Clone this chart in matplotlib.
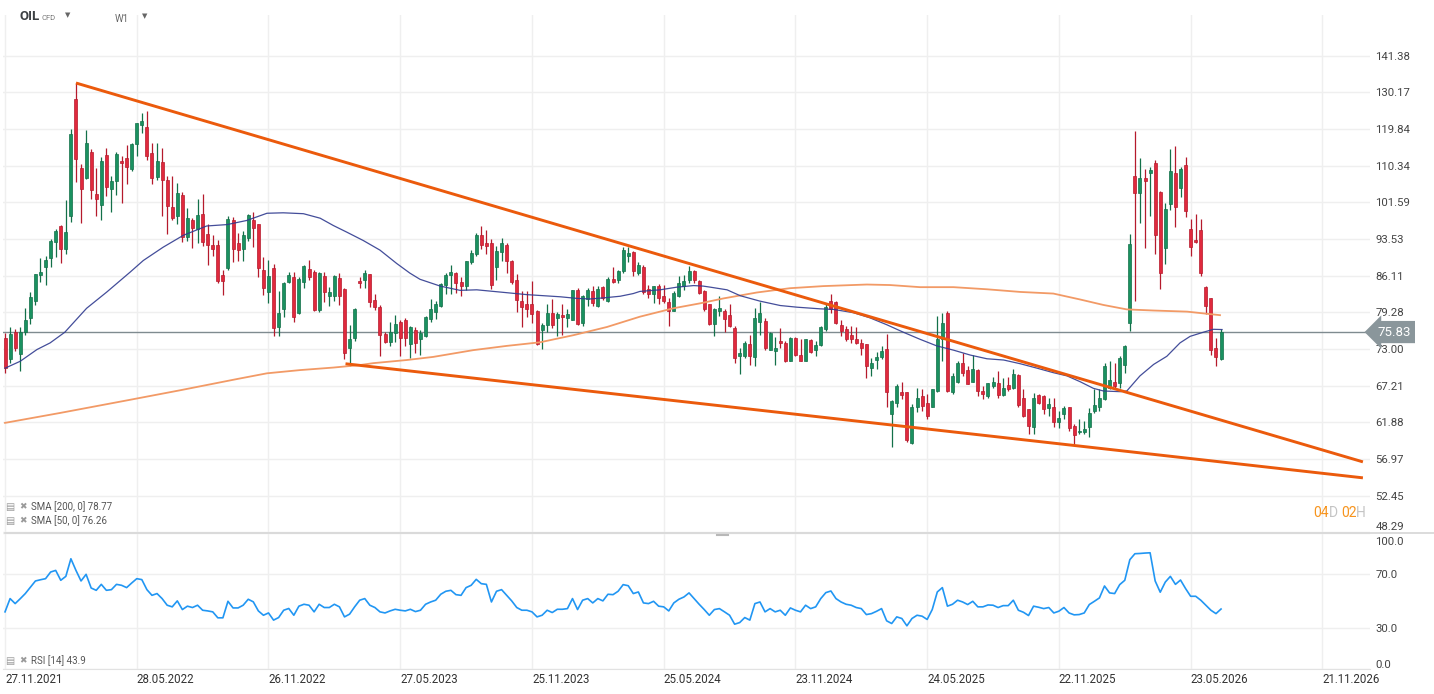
import numpy as np
import pandas as pd
import matplotlib
matplotlib.use("Agg")
import matplotlib.pyplot as plt
from matplotlib.ticker import NullLocator
from matplotlib.transforms import blended_transform_factory

plt.rcParams['font.family'] = ['Roboto', 'DejaVu Sans']

# weekly OIL CFD candles (first candle = week of 27.11.2021)
open_ = [74.8, 71.3, 75.8, 72.2, 75.8, 78.2, 81.4, 86.2, 87.8, 89.6,
         92.9, 96.2, 91.5, 98.4, 128.1, 109.7, 107.3, 113.8, 103.6, 101.0,
         113.0, 104.7, 106.5, 111.6, 112.2, 109.6, 115.8, 121.0, 120.3, 113.4,
         107.5, 111.3, 106.9, 100.6, 98.6, 103.3, 93.9, 97.6, 95.7, 99.0,
         94.6, 92.3, 92.2, 86.2, 87.6, 97.7, 92.7, 91.5, 93.7, 97.7,
         96.7, 87.3, 82.9, 87.6, 76.7, 79.8, 84.9, 85.9, 79.2, 84.9,
         87.5, 86.8, 79.7, 86.0, 82.3, 82.3, 85.7, 83.5, 73.1, 74.8,
         85.0, 85.3, 86.5, 81.5, 80.2, 75.5, 74.1, 75.6, 77.6, 77.9,
         73.8, 76.1, 74.7, 75.2, 78.1, 79.3, 80.4, 84.3, 86.3, 86.6,
         84.9, 84.1, 88.8, 90.4, 94.3, 92.6, 92.7, 87.8, 90.9, 92.2,
         88.9, 85.3, 81.3, 80.8, 80.8, 79.5, 76.1, 77.0, 79.2, 78.2,
         78.8, 78.2, 78.0, 83.4, 77.4, 81.6, 83.1, 80.5, 83.9, 81.3,
         85.4, 85.2, 87.0, 90.0, 90.9, 86.7, 87.8, 83.5, 82.7, 84.1,
         82.3, 81.1, 79.5, 82.3, 84.1, 85.2, 87.1, 85.1, 83.2, 80.7,
         77.3, 79.5, 79.6, 78.8, 76.6, 71.8, 71.8, 73.8, 71.7, 77.5,
         77.8, 72.8, 72.6, 74.4, 73.9, 71.1, 74.9, 72.0, 71.1, 74.5,
         72.8, 73.6, 76.4, 81.4, 81.1, 77.1, 76.4, 75.3, 74.7, 74.0,
         73.8, 70.0, 71.2, 71.7, 73.0, 63.1, 64.6, 66.3, 66.2, 59.0,
         64.0, 65.6, 64.7, 64.0, 66.4, 74.6, 79.2, 66.2, 67.7, 70.8,
         69.6, 67.8, 69.6, 66.4, 65.6, 67.2, 67.6, 65.8, 67.3, 66.8,
         68.9, 65.4, 63.8, 61.2, 65.8, 65.7, 63.9, 64.0, 61.9, 63.0,
         64.0, 61.4, 60.5, 60.6, 61.2, 63.5, 64.0, 65.2, 66.9, 67.7,
         67.6, 70.4, 77.4, 107.7, 103.8, 107.4, 108.5, 111.0, 104.0, 91.6,
         101.3, 108.6, 104.8, 110.6, 95.7, 93.3, 95.4, 84.0, 81.9, 73.2,
         71.4]
high = [75.6, 76.7, 76.4, 76.7, 80.0, 82.9, 86.5, 89.5, 90.1, 93.6,
        95.7, 96.6, 102.2, 119.7, 132.9, 110.7, 119.6, 114.5, 109.7, 112.4,
        114.9, 107.8, 113.8, 112.8, 115.5, 116.2, 121.5, 124.1, 124.9, 116.2,
        116.0, 114.7, 107.7, 107.8, 106.2, 103.9, 100.2, 98.0, 102.3, 103.4,
        96.8, 94.3, 93.4, 87.2, 98.6, 98.3, 94.7, 95.3, 98.9, 99.3,
        96.8, 89.8, 89.1, 88.3, 83.2, 84.9, 86.9, 86.9, 85.9, 88.1,
        89.1, 87.2, 86.8, 86.8, 84.0, 86.2, 86.6, 83.7, 77.1, 80.0,
        85.9, 87.3, 86.5, 82.7, 80.6, 75.8, 77.5, 78.8, 77.9, 78.2,
        76.8, 76.7, 76.1, 78.6, 81.7, 81.3, 84.7, 86.6, 88.2, 86.9,
        85.8, 89.0, 91.2, 94.7, 96.2, 95.5, 93.5, 92.0, 93.7, 92.6,
        89.1, 86.5, 83.1, 83.1, 85.0, 79.7, 77.4, 80.7, 81.6, 79.3,
        80.8, 79.9, 83.4, 83.7, 82.5, 83.7, 84.1, 84.2, 84.2, 85.8,
        87.8, 87.2, 91.8, 91.8, 91.0, 88.8, 88.2, 84.4, 84.2, 84.5,
        84.4, 81.8, 83.1, 86.0, 86.3, 88.0, 87.3, 85.3, 83.4, 80.8,
        80.1, 82.3, 79.9, 80.7, 76.9, 73.2, 74.3, 75.4, 80.1, 81.1,
        78.3, 75.9, 75.0, 76.5, 74.3, 75.0, 75.0, 74.7, 74.7, 74.6,
        74.3, 76.9, 80.8, 82.7, 81.3, 78.0, 76.8, 76.8, 76.7, 74.7,
        73.8, 71.6, 72.5, 73.5, 75.5, 65.1, 67.4, 67.7, 66.3, 64.5,
        66.9, 66.7, 66.0, 66.7, 78.6, 79.1, 79.5, 69.2, 71.0, 72.4,
        70.3, 72.0, 69.7, 67.2, 67.6, 68.6, 69.5, 68.4, 68.5, 69.8,
        69.0, 66.7, 63.8, 66.1, 66.0, 65.8, 65.3, 65.3, 63.5, 64.2,
        64.1, 61.6, 62.3, 62.0, 63.9, 66.7, 66.7, 70.7, 71.0, 70.8,
        71.9, 73.6, 94.6, 119.4, 112.2, 109.6, 110.0, 111.8, 104.2, 101.5,
        114.6, 115.2, 110.0, 112.6, 97.8, 98.9, 97.9, 84.2, 81.9, 74.9,
        76.4]
low = [69.2, 70.8, 72.7, 69.4, 75.4, 77.2, 80.6, 84.9, 84.4, 87.8,
       89.8, 88.5, 90.5, 97.1, 106.4, 97.0, 107.0, 102.3, 98.4, 97.6,
       103.1, 99.3, 103.3, 101.4, 105.9, 109.0, 112.8, 118.7, 111.8, 105.8,
       106.9, 98.6, 94.6, 97.5, 96.8, 92.9, 93.2, 91.6, 92.7, 92.0,
       88.1, 90.1, 84.6, 82.5, 87.2, 88.8, 88.9, 88.9, 93.0, 91.8,
       85.9, 82.4, 80.9, 75.2, 75.2, 78.4, 84.6, 77.6, 78.9, 83.8,
       85.2, 79.6, 79.3, 81.2, 80.5, 81.3, 80.6, 71.4, 70.2, 74.4,
       83.7, 83.8, 80.3, 79.7, 71.8, 73.9, 73.5, 74.1, 71.8, 73.5,
       71.6, 72.4, 72.0, 75.0, 77.6, 78.1, 80.2, 82.7, 82.7, 82.8,
       82.2, 83.3, 88.3, 90.1, 91.4, 90.4, 83.5, 85.3, 89.0, 86.6,
       84.5, 79.3, 76.7, 78.4, 77.4, 73.6, 73.0, 75.9, 76.6, 75.1,
       75.4, 76.7, 77.9, 77.0, 76.8, 80.5, 80.5, 80.2, 81.5, 81.2,
       84.6, 84.7, 86.6, 88.8, 86.0, 86.3, 82.7, 81.8, 81.0, 80.7,
       81.0, 76.9, 79.5, 82.1, 83.4, 84.7, 84.7, 82.6, 79.5, 77.0,
       75.2, 78.6, 75.9, 76.7, 70.8, 69.0, 71.5, 70.4, 70.2, 75.4,
       72.8, 72.8, 70.4, 73.2, 70.9, 71.0, 71.8, 71.0, 71.0, 72.4,
       71.9, 73.5, 76.0, 79.2, 77.2, 75.1, 74.3, 74.0, 73.8, 72.0,
       68.4, 68.7, 69.7, 71.3, 64.1, 58.5, 64.0, 65.2, 59.2, 58.9,
       63.3, 63.5, 62.3, 64.0, 66.2, 71.0, 66.3, 66.0, 67.6, 68.7,
       67.4, 67.7, 65.7, 65.2, 65.4, 66.9, 65.4, 65.7, 66.4, 66.7,
       64.1, 62.6, 60.3, 60.3, 64.5, 63.0, 62.7, 61.2, 61.1, 62.3,
       60.7, 58.8, 60.3, 60.3, 59.8, 63.2, 63.5, 65.0, 66.7, 66.8,
       66.8, 69.2, 76.0, 81.3, 96.9, 91.7, 98.5, 90.4, 83.5, 88.4,
       99.8, 96.1, 102.7, 98.2, 90.1, 92.6, 86.0, 78.9, 72.0, 70.3,
       71.2]
close = [69.9, 75.5, 73.1, 75.8, 78.0, 82.0, 86.5, 86.8, 89.1, 93.2,
         95.2, 91.5, 95.1, 118.4, 112.1, 104.7, 116.0, 104.4, 102.3, 111.5,
         105.2, 106.6, 113.2, 111.1, 110.1, 115.8, 121.4, 121.9, 112.8, 107.3,
         111.5, 106.9, 100.7, 98.0, 103.7, 93.9, 98.0, 95.8, 98.7, 92.9,
         92.2, 91.5, 85.1, 85.1, 97.9, 91.5, 91.3, 94.3, 98.7, 95.8,
         87.6, 83.7, 86.0, 76.5, 79.2, 84.6, 86.2, 78.4, 85.4, 87.9,
         85.9, 79.7, 86.7, 82.9, 82.9, 86.0, 82.3, 72.3, 74.6, 79.9,
         84.6, 86.6, 81.2, 80.2, 75.4, 74.1, 75.9, 77.3, 74.8, 74.8,
         76.7, 73.9, 75.6, 78.5, 79.9, 80.8, 84.5, 86.3, 86.8, 84.7,
         84.1, 88.9, 90.6, 94.4, 92.3, 92.1, 84.4, 91.0, 92.6, 88.9,
         84.9, 81.5, 80.2, 79.9, 78.9, 73.8, 77.0, 79.1, 77.0, 79.0,
         78.4, 79.0, 83.3, 77.2, 82.2, 83.4, 81.0, 83.6, 81.8, 85.5,
         84.8, 87.1, 91.3, 90.7, 87.1, 88.2, 82.9, 82.7, 84.1, 81.9,
         81.3, 79.5, 82.8, 84.6, 85.1, 87.0, 85.2, 82.8, 79.8, 77.3,
         79.9, 80.1, 78.1, 76.9, 71.6, 72.4, 74.0, 71.8, 78.3, 79.2,
         73.2, 75.7, 73.1, 73.9, 71.1, 74.9, 72.0, 71.1, 74.6, 72.5,
         73.6, 76.7, 80.2, 79.9, 77.4, 76.0, 74.6, 74.6, 73.9, 73.2,
         70.3, 70.8, 71.7, 72.6, 66.3, 64.9, 67.1, 65.8, 59.4, 64.0,
         65.4, 64.2, 62.8, 66.7, 74.6, 77.4, 66.4, 68.7, 70.8, 69.2,
         67.5, 69.7, 66.4, 66.0, 67.6, 67.7, 65.8, 66.9, 66.7, 69.0,
         64.4, 62.8, 61.3, 65.3, 64.7, 63.8, 64.5, 61.9, 62.5, 63.9,
         61.1, 60.2, 60.7, 61.0, 63.2, 64.3, 65.3, 70.3, 68.1, 67.2,
         71.6, 73.5, 92.4, 103.8, 107.2, 106.6, 109.2, 94.4, 86.6, 100.0,
         108.9, 100.6, 109.6, 99.6, 91.8, 92.8, 86.7, 80.4, 72.9, 71.7,
         75.83]

# moving averages read at sample weeks (week index, value)
sma50_wk = [0, 3, 6.3, 8.9, 11.8, 16.1, 20.1, 24.7, 27.3, 31.2, 35.2, 39.8, 43.8, 47.7,
            51.7, 54.9, 58.9, 62.2, 64.8, 67.4, 70.7, 74.0, 77.3, 79.9, 81.9, 85.9, 89.8,
            93.1, 96.4, 99.7, 103.0, 106.3, 109.6, 112.9, 115.5, 118.1, 121.4, 124.0,
            125.3, 129.3, 132.6, 135.9, 137.8, 139.2, 142.5, 145.1, 149.0, 153.0, 156.3,
            160.9, 163.5, 167.5, 170.7, 174.0, 177.3, 180.6, 183.9, 187.2, 190.5, 193.8,
            197.1, 200.4, 203.7, 206.9, 209.6, 212.2, 214.8, 216.8, 220.1, 221.4, 224.0,
            226.7, 229.3, 231.9, 233.9, 236.5, 238.5, 240.2]
sma50_val = [69.9, 71.0, 72.9, 74.0, 75.8, 80.0, 83.0, 86.8, 89.1, 91.8, 94.3, 96.3, 96.6, 97.5,
             99.1, 99.2, 99.0, 98.0, 96.4, 95.0, 93.2, 91.2, 88.5, 86.6, 85.4, 84.1, 83.3,
             83.4, 83.1, 82.8, 82.5, 82.3, 82.1, 81.8, 81.7, 81.9, 82.2, 82.7,
             83.1, 83.4, 83.9, 84.2, 84.1, 83.9, 83.4, 82.3, 81.3, 80.5, 80.2,
             79.9, 79.8, 79.2, 78.3, 77.1, 75.8, 74.6, 73.5, 72.8, 72.0, 71.4,
             71.2, 70.6, 69.9, 69.2, 68.7, 67.8, 66.8, 66.4, 66.3, 66.4, 68.7,
             70.5, 71.8, 74.0, 75.1, 75.8, 76.3, 76.26]
sma200_wk = [0, 10.9, 24.7, 34.5, 45.7, 51.7, 58.2, 64.8, 70.1, 72.7, 79.3, 84.5, 92.4, 99.0,
             105.6, 112.2, 118.8, 125.3, 131.9, 137.2, 141.8, 148.4, 154.9, 161.5, 170.1,
             174.7, 180.6, 187.2, 193.8, 200.4, 206.9, 212.2, 216.8, 221.4, 226.7, 233.3, 239.8]
sma200_val = [61.8, 63.2, 65.1, 66.5, 68.2, 69.1, 69.6, 70.0, 70.4, 70.7, 71.2, 71.7, 72.8, 73.5,
              74.1, 75.3, 76.7, 78.5, 80.0, 80.9, 81.8, 82.9, 83.7, 84.1, 84.4,
              84.3, 83.9, 83.9, 83.5, 83.0, 82.7, 81.6, 80.6, 79.8, 79.6, 79.4, 78.77]

rsi = [41.8, 51.6, 47.9, 51.5, 55.3, 60.0, 64.6, 65.5, 66.3, 71.2,
       72.4, 65.1, 68.0, 81.0, 72.4, 64.6, 69.5, 59.4, 57.7, 62.1,
       57.7, 58.2, 62.1, 61.4, 59.7, 63.1, 66.3, 65.6, 58.2, 54.0,
       55.3, 51.6, 46.7, 45.5, 49.9, 43.5, 46.0, 45.0, 46.7, 43.0,
       42.5, 41.8, 37.4, 37.4, 49.6, 44.7, 44.7, 46.7, 51.1, 49.2,
       42.5, 39.3, 41.0, 35.7, 37.6, 43.0, 44.3, 39.3, 46.0, 47.4,
       46.7, 41.8, 47.4, 45.0, 45.0, 47.4, 45.5, 38.1, 40.1, 45.5,
       50.4, 51.6, 46.7, 45.0, 41.8, 41.0, 42.5, 43.7, 43.0, 42.5,
       43.7, 42.0, 43.0, 47.4, 49.1, 50.4, 54.8, 57.0, 57.7, 54.5,
       54.0, 59.7, 61.4, 65.8, 62.6, 62.1, 49.1, 57.0, 58.2, 54.0,
       49.9, 45.0, 43.0, 43.0, 41.8, 38.1, 39.3, 43.0, 41.3, 43.7,
       43.7, 44.2, 51.6, 43.5, 50.4, 51.6, 48.4, 51.6, 49.9, 54.8,
       54.5, 57.0, 61.9, 61.1, 55.3, 56.5, 48.4, 47.9, 49.6, 46.0,
       45.5, 42.5, 48.4, 51.1, 52.8, 55.8, 51.6, 47.4, 43.5, 39.3,
       43.5, 44.2, 41.8, 39.3, 32.7, 33.9, 37.6, 35.7, 47.9, 49.1,
       41.8, 44.2, 41.8, 43.0, 39.3, 44.7, 43.0, 41.8, 46.7, 44.2,
       45.5, 51.6, 56.0, 57.2, 51.6, 49.1, 47.4, 46.7, 45.0, 44.2,
       39.8, 40.5, 42.2, 44.2, 35.2, 33.2, 38.1, 36.9, 31.5, 36.9,
       39.3, 38.6, 36.2, 43.5, 56.5, 59.7, 46.0, 47.4, 50.4, 49.1,
       47.2, 49.6, 45.5, 45.5, 46.9, 46.7, 45.0, 46.4, 46.4, 50.4,
       43.0, 41.5, 39.1, 46.0, 45.2, 44.2, 45.0, 41.0, 42.3, 45.0,
       41.0, 39.6, 39.8, 41.0, 47.2, 49.6, 52.1, 60.9, 55.8, 55.3,
       61.9, 65.1, 80.3, 84.7, 84.9, 85.2, 85.4, 64.6, 56.3, 63.8,
       68.0, 62.1, 65.3, 59.0, 53.3, 53.3, 50.4, 46.7, 43.0, 40.5,
       43.9]

# wedge trendlines: (week index, price) at both ends
upper_wk, upper_px = [14, 268], [132.9, 56.6]
lower_wk, lower_px = [67.2, 268], [70.6, 54.6]

last_price = 75.83
price_ticks = [48.29, 52.45, 56.97, 61.88, 67.21, 73.00, 79.28, 86.11,
               93.53, 101.59, 110.34, 119.84, 130.17, 141.38]
rsi_levels = [0, 30, 70, 100]
date_ticks = list(range(0, 261, 26))
weeks = pd.date_range("2021-11-27", periods=270, freq="7D")
date_labels = [weeks[i].strftime("%d.%m.%Y") for i in date_ticks]

GREEN, GREEN_EDGE = '#1a9160', '#137049'
RED, RED_EDGE = '#e0293d', '#b51a2c'
GRID = '#efefef'
W, H = 1434, 694

fig = plt.figure(figsize=(W / 100, H / 100), dpi=100)
ax = fig.add_axes([3 / W, (H - 533) / H, 1367 / W, 518 / H])
rax = fig.add_axes([3 / W, (H - 668.5) / H, 1367 / W, 135.5 / H])

xlim = (-0.4, 269.4)

# ---- price panel
o, h, l, c = map(np.array, (open_, high, low, close))
x = np.arange(len(c))
up = c >= o
body_col = np.where(up, GREEN, RED)
edge_col = np.where(up, GREEN_EDGE, RED_EDGE)
ax.vlines(x, l, h, colors=edge_col, lw=0.9, zorder=3)
ax.bar(x, np.abs(c - o), bottom=np.minimum(o, c), width=0.6,
       color=body_col, edgecolor=edge_col, lw=0.5, zorder=4)

ax.plot(sma200_wk, sma200_val, color='#f29a66', lw=1.3, zorder=5)
ax.plot(sma50_wk, sma50_val, color='#2f3a8f', lw=0.9, alpha=0.9, zorder=5)
ax.plot(upper_wk, upper_px, color='#eb5a0c', lw=2.1, zorder=6, solid_capstyle='butt')
ax.plot(lower_wk, lower_px, color='#eb5a0c', lw=2.1, zorder=6, solid_capstyle='butt')
ax.axhline(last_price, color='#7f8b90', lw=1.0, zorder=2)

ax.set_yscale('log')
ax.set_ylim(48.22, 154.9)
ax.set_xlim(*xlim)
ax.yaxis.set_minor_locator(NullLocator())
ax.yaxis.tick_right()
ax.set_yticks(price_ticks)
ax.set_yticklabels([f"{t:.2f}" for t in price_ticks])
ax.set_xticks(date_ticks)
ax.set_xticklabels([])
ax.tick_params(axis='y', length=0, pad=4, labelsize=8.2, labelcolor='#444444')
ax.tick_params(axis='x', length=0)
ax.get_yticklabels()[0].set_va('bottom')
ax.grid(True, color=GRID, lw=1.0, zorder=0)
for s in ax.spines.values():
    s.set_visible(False)

# current price tag
trans = blended_transform_factory(fig.transFigure, ax.transData)
ax.text(1377 / W, last_price, f"{last_price:.2f}", transform=trans, ha='left', va='center',
        color='white', fontsize=9.5, clip_on=False, zorder=10,
        bbox=dict(boxstyle='larrow,pad=0.35', fc='#8a969b', ec='none'))

# ---- RSI panel
rax.plot(x, rsi, color='#2196f3', lw=1.2, zorder=3)
rax.set_xlim(*xlim)
rax.set_ylim(0, 100)
rax.yaxis.tick_right()
rax.set_yticks(rsi_levels)
rax.set_yticklabels([f"{v:.1f}" for v in rsi_levels])
rax.tick_params(axis='y', length=0, pad=4, labelsize=8.2, labelcolor='#444444')
rax.set_xticks(date_ticks)
rax.set_xticklabels(date_labels, ha='left')
rax.tick_params(axis='x', length=0, pad=3, labelsize=8.3, labelcolor='#333333')
rax.grid(True, color=GRID, lw=1.0, zorder=0)
# keep end labels inside the panel, as the platform does
for lab, dy in zip(rax.get_yticklabels(), (4, 0, 0, -8)):
    lab.set_transform(lab.get_transform() + matplotlib.transforms.ScaledTranslation(0, dy / 100, fig.dpi_scale_trans))
for s in ('left', 'right', 'top'):
    rax.spines[s].set_visible(False)
rax.spines['bottom'].set_color('#e2e2e2')

# panel separator and handle
fig.add_artist(plt.Line2D([5 / W, 1], [(H - 533) / H] * 2, color='#d6d6d6', lw=1.2))
fig.add_artist(plt.Line2D([717 / W, 728 / W], [(H - 535) / H] * 2, color='#b8b8b8', lw=1.5))

# header
def ftext(px, py, s, **kw):
    fig.text(px / W, 1 - py / H, s, va='center', **kw)

ftext(20, 17, "OIL", fontsize=9.5, fontweight='bold', color='#3c4043')
ftext(42, 18, "CFD", fontsize=5.5, color='#777777')
ftext(65, 16, "▼", fontsize=5, color='#666666')
ftext(115, 19, "W1", fontsize=7, color='#666666')
ftext(142, 17, "▼", fontsize=5, color='#666666')

# indicator legends
for py, label in [(507, "SMA [200, 0] 78.77"), (521, "SMA [50, 0] 76.26"), (661, "RSI [14] 43.9")]:
    ftext(5, py, "▤", fontsize=7, color='#9a9a9a')
    ftext(19, py, "✖", fontsize=6.5, color='#9a9a9a')
    ftext(31, py, label, fontsize=7, color='#555555')

# countdown
ftext(1313, 513, "04", fontsize=10, color='#f7941d')
ftext(1329, 513, "D", fontsize=10, color='#c4c4c4')
ftext(1341, 513, "02", fontsize=10, color='#f7941d')
ftext(1356, 513, "H", fontsize=10, color='#c4c4c4')

fig.savefig("out.png", dpi=100)
